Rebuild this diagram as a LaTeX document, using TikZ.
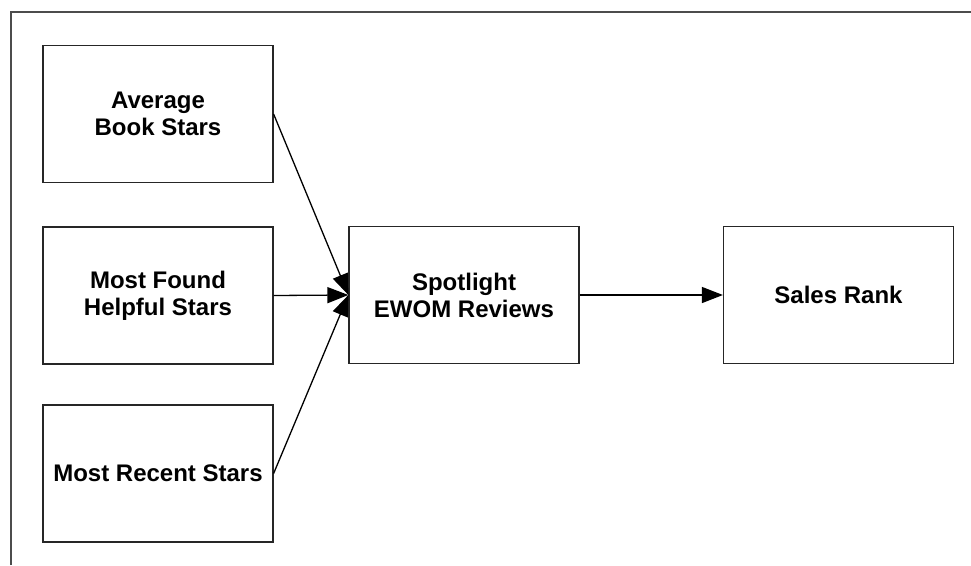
\documentclass[tikz,border=0pt]{standalone}
\usepackage{fontspec}
\setmainfont{Liberation Sans}
\usetikzlibrary{arrows.meta}
\begin{document}
\begin{tikzpicture}[x=1pt,y=-1pt,
  factor/.style={draw=black!85, line width=1.2pt, minimum width=230pt, minimum height=137pt,
    inner sep=0pt, align=center, font=\fontsize{24}{27}\selectfont\bfseries},
  link/.style={draw=black, line width=1.3pt, -{Triangle[length=21pt,width=16pt]}}]
\useasboundingbox (0,0) rectangle (971,565);
% outer frame edges
\draw[black!70, line width=1.2pt] (11,565) -- (11,12) -- (971,12);
% factor boxes
\node[factor] (avg) at (158,114) {Average\\Book Stars};
\node[factor] (help) at (158,295.5) {Most Found\\Helpful Stars};
\node[factor] (recent) at (158,473.5) {Most Recent Stars};
\node[factor] (spot) at (464,295) {Spotlight\\EWOM Reviews};
\node[factor] (rank) at (838.5,295) {Sales Rank};
% connectors
\draw[link] (avg.east) -- (spot.west);
\draw[link] (help.east) -- (spot.west);
\draw[link] (recent.east) -- (spot.west);
\draw[link] (spot.east) -- (rank.west);
\end{tikzpicture}
\end{document}
